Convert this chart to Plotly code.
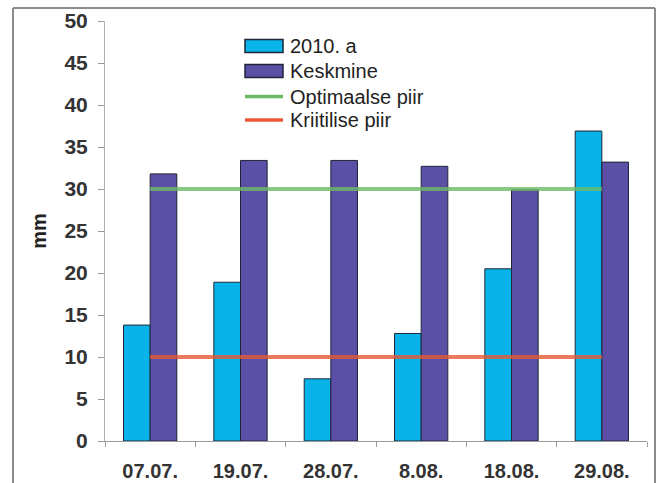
import plotly.graph_objects as go

# Sampling dates and rainfall (mm)
dates = ["07.07.", "19.07.", "28.07.", "8.08.", "18.08.", "29.08."]
rain_2010 = [13.8, 18.9, 7.4, 12.8, 20.5, 36.9]
rain_mean = [31.8, 33.4, 33.4, 32.7, 29.9, 33.2]
optimal_limit = [30, 30, 30, 30, 30, 30]
critical_limit = [10, 10, 10, 10, 10, 10]
y_ticks = [0, 5, 10, 15, 20, 25, 30, 35, 40, 45, 50]

series_names = ["2010. a", "Keskmine", "Optimaalse piir", "Kriitilise piir"]

W, H = 661, 483
L, R, T, B = 105, 14, 21, 42
PW, PH = W - L - R, H - T - B

CYAN = "#08b3e9"
PURPLE = "#5b4fa6"
GREEN = "#6cba68"
RED = "#e85a36"
EDGE = "#1e2638"
FRAME = "#8c8c8c"
FONT = "Liberation Sans, Arial, sans-serif"


def px_x(px):
    return (px - L) / PW


def px_y(py):
    return (H - B - py) / PH


fig = go.Figure()
fig.add_trace(go.Bar(x=dates, y=rain_2010, name=series_names[0],
                     marker=dict(color=CYAN, line=dict(color=EDGE, width=1))))
fig.add_trace(go.Bar(x=dates, y=rain_mean, name=series_names[1],
                     marker=dict(color=PURPLE, line=dict(color=EDGE, width=1))))
fig.add_trace(go.Scatter(x=dates, y=optimal_limit, name=series_names[2], mode="lines",
                         line=dict(color=GREEN, width=4), opacity=0.8))
fig.add_trace(go.Scatter(x=dates, y=critical_limit, name=series_names[3], mode="lines",
                         line=dict(color=RED, width=4), opacity=0.8))

# Hand-drawn legend with wide swatches
shapes = []
annotations = []
rows = [46, 71, 96.5, 120]
sw_x0, sw_x1 = 245, 283
for i, (name, yy) in enumerate(zip(series_names, rows)):
    if i < 2:
        shapes.append(dict(type="rect", xref="paper", yref="paper",
                           x0=px_x(sw_x0), x1=px_x(sw_x1),
                           y0=px_y(yy - 6.5), y1=px_y(yy + 6.5),
                           fillcolor=[CYAN, PURPLE][i],
                           line=dict(color=EDGE, width=1.5)))
    else:
        shapes.append(dict(type="line", xref="paper", yref="paper",
                           x0=px_x(sw_x0), x1=px_x(sw_x1),
                           y0=px_y(yy), y1=px_y(yy),
                           line=dict(color=[GREEN, RED][i - 2], width=3.5)))
    annotations.append(dict(text=name, xref="paper", yref="paper",
                            x=px_x(288), y=px_y(yy), xanchor="left", yanchor="middle",
                            showarrow=False,
                            font=dict(family=FONT, size=20, color="#222")))

# Outer frame: left, top and right edges (open at the bottom)
for x0, y0, x1, y1 in [(13, 8, 13, H + 5), (13, 8, 655, 8), (655, 8, 655, H + 5)]:
    shapes.append(dict(type="line", xref="paper", yref="paper",
                       x0=px_x(x0), x1=px_x(x1), y0=px_y(y0), y1=px_y(y1),
                       line=dict(color=FRAME, width=2), layer="above"))

fig.update_layout(
    width=W, height=H,
    margin=dict(l=L, r=R, t=T, b=B, pad=0, autoexpand=False),
    paper_bgcolor="white", plot_bgcolor="white",
    barmode="group", bargap=0.41, bargroupgap=0,
    showlegend=False,
    shapes=shapes, annotations=annotations,
    font=dict(family=FONT, color="#333"),
    xaxis=dict(type="category", showgrid=False, showline=True, linecolor="#9a9a9a",
               linewidth=1, ticks="outside", tickson="boundaries", ticklen=5,
               tickcolor="#9a9a9a", ticklabelstandoff=12, automargin=False,
               tickfont=dict(family=FONT, size=20, color="#333", weight="bold")),
    yaxis=dict(range=[0, 50], tickvals=y_ticks, showgrid=False, zeroline=False,
               showline=True, linecolor="#b0b0b0", linewidth=1, ticks="outside",
               ticklen=6, tickcolor="#9a9a9a", ticklabelstandoff=6, automargin=False,
               tickfont=dict(family=FONT, size=21, color="#333", weight="bold"),
               title=dict(text="mm", standoff=12,
                          font=dict(family=FONT, size=20, color="#222", weight="bold"))),
)

fig.write_html("out.html")
